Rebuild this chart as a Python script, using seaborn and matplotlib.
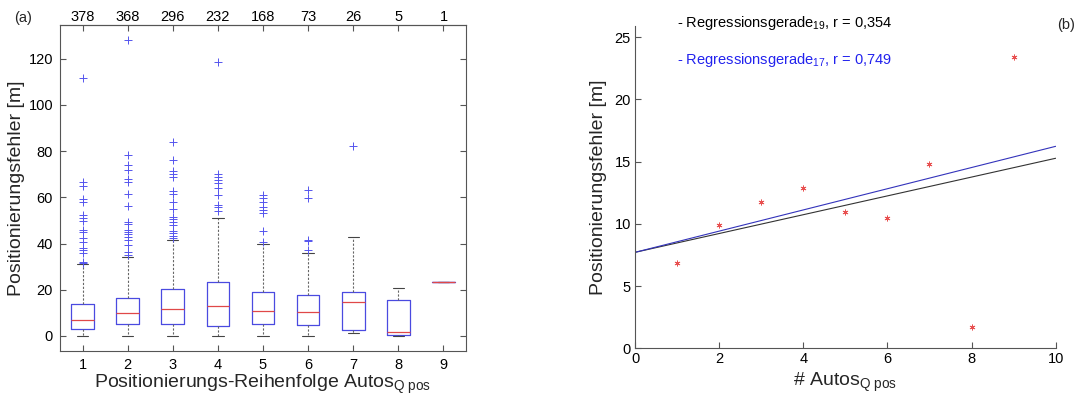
import matplotlib
matplotlib.use("Agg")
import matplotlib.pyplot as plt
import numpy as np
import pandas as pd
import seaborn as sns

# ---------------- data ----------------
positions = [1, 2, 3, 4, 5, 6, 7, 8, 9]
counts = [378, 368, 296, 232, 168, 73, 26, 5, 1]
medians = [6.88, 9.92, 11.74, 12.85, 10.99, 10.43, 14.84, 1.74, 23.44]
q1 = [2.9, 5.0, 5.3, 4.3, 5.2, 4.8, 2.5, 0.6, 23.44]
q3 = [14.0, 16.6, 20.2, 23.5, 19.2, 17.6, 18.9, 15.4, 23.44]
whislo = [0.0, 0.0, 0.0, 0.0, 0.0, 0.0, 1.2, 0.0, 23.44]
whishi = [31.0, 34.0, 41.4, 50.9, 39.7, 36.1, 42.7, 20.6, 23.44]
outliers = [
    [111.5, 66.5, 65.0, 59.3, 58.1, 52.2, 51.0, 49.6, 45.9, 45.0, 42.4, 40.8, 38.1, 37.0, 36.0, 31.9, 31.5],
    [128.1, 78.3, 73.9, 71.8, 67.9, 66.8, 61.4, 56.2, 49.2, 48.5, 45.7, 44.8, 44.1, 43.0, 41.5, 39.4, 36.2, 35.0],
    [83.9, 76.0, 71.5, 70.1, 68.9, 62.9, 61.4, 57.9, 54.9, 51.6, 50.5, 49.3, 48.0, 45.3, 44.5, 43.3, 42.5],
    [118.7, 70.2, 69.0, 67.4, 66.0, 64.2, 60.9, 56.6, 56.0, 54.2],
    [61.0, 59.6, 58.1, 56.0, 54.5, 53.4, 45.3, 40.5],
    [63.2, 59.9, 41.5, 41.0, 37.2],
    [82.4],
    [],
    [],
]

# right panel: medians vs number of cars, regression lines
reg_x = [0, 10]
reg19_intercept, reg19_slope = 7.71, 0.756
reg17_intercept, reg17_slope = 7.71, 0.852
reg19_label = r"- Regressionsgerade$_{\mathrm{19}}$, r = 0,354"
reg17_label = r"- Regressionsgerade$_{\mathrm{17}}$, r = 0,749"

# ---------------- style ----------------
sns.set_theme(style="white")
plt.rcParams["font.family"] = ["Liberation Sans", "DejaVu Sans"]
plt.rcParams["mathtext.fontset"] = "custom"
plt.rcParams["mathtext.rm"] = "Liberation Sans"
plt.rcParams["mathtext.it"] = "Liberation Sans:italic"
plt.rcParams["axes.edgecolor"] = "#555555"
plt.rcParams["axes.linewidth"] = 0.8
plt.rcParams["xtick.color"] = "#555555"
plt.rcParams["ytick.color"] = "#555555"
plt.rcParams["xtick.labelcolor"] = "black"
plt.rcParams["ytick.labelcolor"] = "black"

fig = plt.figure(figsize=(10.75, 4.0), dpi=100)
axL = fig.add_axes([0.0558, 0.1225, 0.3777, 0.815])
axR = fig.add_axes([0.5907, 0.1293, 0.3913, 0.8057])

# ---------------- left: boxplots ----------------
stats = []
for i in range(len(positions)):
    stats.append(dict(med=medians[i], q1=q1[i], q3=q3[i],
                      whislo=whislo[i], whishi=whishi[i],
                      fliers=outliers[i], label=str(positions[i])))

axL.bxp(stats, positions=positions, widths=0.5, showfliers=True,
        boxprops=dict(color="#4a4ae0", linewidth=0.9),
        medianprops=dict(color="#e04848", linewidth=0.9),
        whiskerprops=dict(color="#666666", linewidth=0.8, linestyle=(0, (2, 1.5))),
        capprops=dict(color="#444444", linewidth=0.8),
        capwidths=0.25,
        flierprops=dict(marker="+", markeredgecolor="#5555ee", markersize=5.5,
                        markeredgewidth=0.7, linestyle="none"))

axL.set_xlim(0.5, 9.5)
axL.set_ylim(-6.5, 134.6)
axL.set_xticks(positions)
axL.set_xticklabels([str(p) for p in positions])
axL.set_yticks([0, 20, 40, 60, 80, 100, 120])
axL.tick_params(axis="both", direction="in", length=4, width=0.8,
                labelsize=10.5, right=True, top=False, left=True, bottom=True, pad=5)
secL = axL.secondary_xaxis("top")
secL.set_xticks(positions)
secL.set_xticklabels([str(c) for c in counts])
secL.tick_params(direction="in", length=4, width=0.8, labelsize=10.5, pad=1)
for s in axL.spines.values():
    s.set_visible(True)
axL.set_ylabel("Positionierungsfehler [m]", fontsize=14)
axL.yaxis.set_label_coords(-0.086, 0.5)
axL.set_xlabel(r"Positionierungs-Reihenfolge Autos$_{\mathrm{Q\ pos}}$", fontsize=14)
axL.xaxis.set_label_coords(0.5, -0.068)
axL.xaxis.label.set_va("top")

# ---------------- right: scatter + regression ----------------
dfR = pd.DataFrame({"x": positions, "y": medians})
sns.scatterplot(data=dfR, x="x", y="y", ax=axR, marker=(6, 2, 0), s=14,
                color="#e85050", edgecolor="#e85050", linewidth=0.6, zorder=3)
xs = np.array(reg_x, dtype=float)
df19 = pd.DataFrame({"x": xs, "y": reg19_intercept + reg19_slope * xs})
df17 = pd.DataFrame({"x": xs, "y": reg17_intercept + reg17_slope * xs})
sns.lineplot(data=df19, x="x", y="y", ax=axR, color="#333333", linewidth=0.8)
sns.lineplot(data=df17, x="x", y="y", ax=axR, color="#3333bb", linewidth=0.8)

axR.set_xlim(0, 10)
axR.set_ylim(0, 25.9)
axR.set_xticks([0, 2, 4, 6, 8, 10])
axR.set_yticks([0, 5, 10, 15, 20, 25])
axR.tick_params(axis="both", direction="in", length=4, width=0.8, labelsize=10.5,
                top=False, right=False, left=True, bottom=True, pad=3)
axR.spines["top"].set_visible(False)
axR.spines["right"].set_visible(False)
axR.set_ylabel("Positionierungsfehler [m]", fontsize=14)
axR.yaxis.set_label_coords(-0.067, 0.5)
axR.set_xlabel(r"# Autos$_{\mathrm{Q\ pos}}$", fontsize=14)
axR.xaxis.set_label_coords(0.5, -0.069)
axR.xaxis.label.set_va("top")

fig.text(0.630, 0.932, reg19_label, color="black", fontsize=10.5, va="baseline")
fig.text(0.630, 0.839, reg17_label, color="#2222ee", fontsize=10.5, va="baseline")

fig.text(0.013, 0.955, "(a)", fontsize=10.5, va="center")
fig.text(0.983, 0.9375, "(b)", fontsize=10.5, va="center")

fig.savefig("out.png", dpi=100)
